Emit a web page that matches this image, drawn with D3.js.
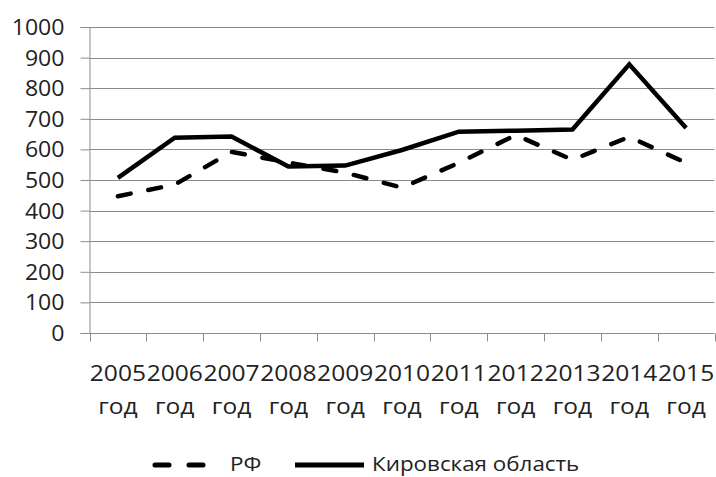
<!DOCTYPE html>
<html><head><meta charset="utf-8">
<script src="https://cdn.jsdelivr.net/npm/d3@7"></script>
<style>
body{margin:0;background:#fff;}
svg{display:block;}
text{font-family:"Open Sans",sans-serif;fill:#222;}
</style></head>
<body>
<svg id="chart" width="716" height="477"></svg>
<script>
const years = ["2005","2006","2007","2008","2009","2010","2011","2012","2013","2014","2015"];
const yearSuffix = "год";
const rfValues = [447, 485, 592, 557, 524, 475, 556, 647, 566, 641, 556];
const kirovValues = [507, 638, 642, 544, 547, 598, 658, 661, 665, 878, 670];
const seriesNames = ["РФ", "Кировская область"];
const yTicks = [0,100,200,300,400,500,600,700,800,900,1000];

(function () {
const svg = d3.select("#chart");
const mLeft = 89.5, mRight = 714.5, mTop = 27, mBottom = 333;
const x = d3.scaleBand().domain(years).range([mLeft, mRight]);
const y = d3.scaleLinear().domain([0, 1000]).range([mBottom, mTop]);
const gridColor = "#8c8c8c";

// gridlines
svg.append("g").selectAll("line").data(yTicks.filter(d => d > 0)).join("line")
  .attr("x1", mLeft).attr("x2", mRight)
  .attr("y1", d => Math.round(y(d)) + 0.5).attr("y2", d => Math.round(y(d)) + 0.5)
  .attr("stroke", gridColor).attr("stroke-width", 1);

// y axis
const yAxis = svg.append("g").attr("transform", `translate(${mLeft},0)`)
  .call(d3.axisLeft(y).tickValues(yTicks).tickSize(9).tickPadding(17).tickFormat(d3.format("d")));
yAxis.select(".domain").attr("stroke", gridColor);
yAxis.selectAll(".tick line").attr("stroke", gridColor);
yAxis.selectAll(".tick text").attr("font-size", 21).attr("fill", "#222").attr("font-family", "Open Sans")
  .attr("dy", "0.36em").attr("x", 0)
  .attr("transform", "translate(-25,0) scale(1.1,1)");

// x axis
const xAxis = svg.append("g").attr("transform", `translate(0,${mBottom + 0.5})`);
xAxis.append("line").attr("x1", mLeft).attr("x2", mRight).attr("stroke", gridColor);
const boundaries = years.map(d => x(d)).concat([mRight]);
xAxis.selectAll("line.tk").data(boundaries).join("line").attr("class", "tk")
  .attr("x1", d => Math.round(d) + 0.5).attr("x2", d => Math.round(d) + 0.5)
  .attr("y1", 0).attr("y2", 8).attr("stroke", gridColor);
const xl = svg.append("g").selectAll("text").data(years).join("text")
  .attr("text-anchor", "middle").attr("font-size", 21)
  .attr("transform", d => `translate(${x(d) + x.bandwidth() / 2},0) scale(1.17,1)`);
xl.append("tspan").attr("x", 0).attr("y", 381).text(d => d);
xl.append("tspan").attr("x", 0).attr("y", 414).text(yearSuffix);

// lines
const line = d3.line().x((d, i) => x(years[i]) + x.bandwidth() / 2).y(d => y(d));
svg.append("path").datum(rfValues).attr("d", line)
  .attr("fill", "none").attr("stroke", "#000").attr("stroke-width", 4.5)
  .attr("stroke-linecap", "round").attr("stroke-dasharray", "13,18");
svg.append("path").datum(kirovValues).attr("d", line)
  .attr("fill", "none").attr("stroke", "#000").attr("stroke-width", 4.5)
  .attr("stroke-linejoin", "miter");

// legend
const lg = svg.append("g");
lg.append("line").attr("x1", 155).attr("x2", 208).attr("y1", 465).attr("y2", 465)
  .attr("stroke", "#000").attr("stroke-width", 5).attr("stroke-linecap", "round").attr("stroke-dasharray", "14,20");
lg.append("text").attr("transform", "translate(230,471) scale(1.12,1)").attr("font-size", 20).text(seriesNames[0]);
lg.append("line").attr("x1", 295).attr("x2", 364).attr("y1", 465).attr("y2", 465)
  .attr("stroke", "#000").attr("stroke-width", 5);
lg.append("text").attr("transform", "translate(372,471) scale(1.12,1)").attr("font-size", 20).text(seriesNames[1]);
})();
</script>
</body></html>
